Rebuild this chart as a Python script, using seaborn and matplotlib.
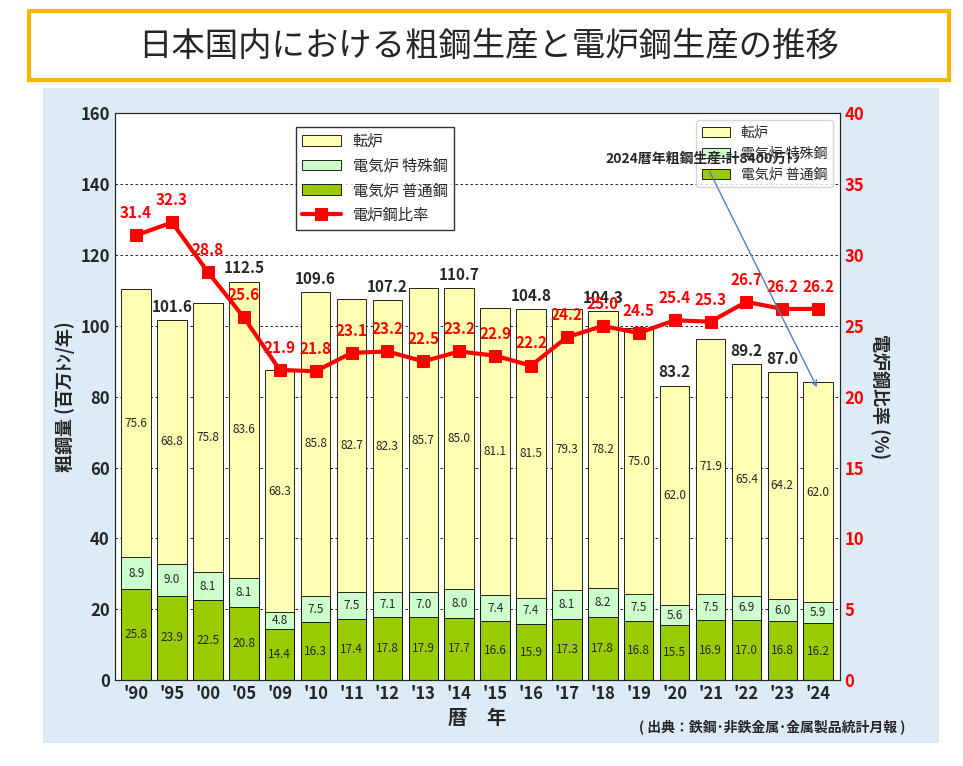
import matplotlib
matplotlib.use("Agg")
import matplotlib.pyplot as plt
import seaborn as sns
import pandas as pd
import numpy as np
from matplotlib.patches import Rectangle

sns.set_style("white")
plt.rcParams['font.family'] = ['Noto Sans CJK JP', 'DejaVu Sans']

years = ["'90","'95","'00","'05","'09","'10","'11","'12","'13","'14","'15","'16","'17","'18","'19","'20","'21","'22","'23","'24"]
eaf_normal = [25.8,23.9,22.5,20.8,14.4,16.3,17.4,17.8,17.9,17.7,16.6,15.9,17.3,17.8,16.8,15.5,16.9,17.0,16.8,16.2]
eaf_special = [8.9,9.0,8.1,8.1,4.8,7.5,7.5,7.1,7.0,8.0,7.4,7.4,8.1,8.2,7.5,5.6,7.5,6.9,6.0,5.9]
bof = [75.6,68.8,75.8,83.6,68.3,85.8,82.7,82.3,85.7,85.0,81.1,81.5,79.3,78.2,75.0,62.0,71.9,65.4,64.2,62.0]
eaf_ratio = [31.4,32.3,28.8,25.6,21.9,21.8,23.1,23.2,22.5,23.2,22.9,22.2,24.2,25.0,24.5,25.4,25.3,26.7,26.2,26.2]
total_labels = {"'95":"101.6","'05":"112.5","'10":"109.6","'12":"107.2","'14":"110.7","'16":"104.8","'18":"104.3","'20":"83.2","'22":"89.2","'23":"87.0"}

df = pd.DataFrame({"year": years, "normal": eaf_normal, "special": eaf_special, "bof": bof, "ratio": eaf_ratio})
df["mid"] = df["normal"] + df["special"]
df["total"] = df["mid"] + df["bof"]

fig = plt.figure(figsize=(9.63, 7.66), dpi=100)
fig.patch.set_facecolor("white")
bg = Rectangle((0.045, 0.03), 0.93, 0.855, transform=fig.transFigure,
               facecolor="#dcebf5", edgecolor="none", zorder=-10)
fig.patches.append(bg)
tb = Rectangle((0.03, 0.895), 0.955, 0.09, transform=fig.transFigure,
               facecolor="white", edgecolor="#f5b800", linewidth=3, zorder=-5)
fig.patches.append(tb)
fig.text(0.507, 0.94, "日本国内における粗鋼生産と電炉鋼生産の推移", ha="center", va="center", fontsize=24)

ax = fig.add_axes([0.119, 0.112, 0.753, 0.74])
ax.set_facecolor("white")
kw = dict(width=0.82, edgecolor="black", linewidth=0.6, ax=ax, order=years, saturation=1)
sns.barplot(data=df, x="year", y="total", color="#ffffb3", label="転炉", **kw)
sns.barplot(data=df, x="year", y="mid", color="#ccffcc", label="電気炉 特殊鋼", **kw)
sns.barplot(data=df, x="year", y="normal", color="#99cc00", label="電気炉 普通鋼", **kw)

for i, r in df.iterrows():
    ax.text(i, r["normal"] / 2, f"{r['normal']:.1f}", ha="center", va="center", fontsize=8.5)
    ax.text(i, r["normal"] + r["special"] / 2, f"{r['special']:.1f}", ha="center", va="center", fontsize=8.5)
    ax.text(i, r["mid"] + r["bof"] / 2, f"{r['bof']:.1f}", ha="center", va="center", fontsize=8.5)
    if r["year"] in total_labels:
        ax.text(i, r["total"] + 1.5, total_labels[r["year"]], ha="center", va="bottom", fontsize=11, fontweight="bold")

ax.set_ylim(0, 160)
ax.set_xlim(-0.6, 19.6)
ax.set_yticks(range(0, 161, 20))
ax.yaxis.grid(True, linestyle=(0, (3, 3)), color="black", linewidth=0.6)
ax.set_axisbelow(True)
ax.set_xlabel("暦　年", fontsize=14, fontweight="bold")
ax.set_ylabel("粗鋼量 (百万ﾄﾝ/年)", fontsize=13, fontweight="bold")
ax.tick_params(axis="both", labelsize=12, length=0)
for t in ax.get_xticklabels() + ax.get_yticklabels():
    t.set_fontweight("bold")

ax2 = ax.twinx()
xpos = np.arange(len(years))
sns.lineplot(x=xpos, y=df["ratio"], ax=ax2, color="red", linewidth=3, marker="s",
             markersize=8, markeredgecolor="red", label="電炉鋼比率")
for i, v in enumerate(eaf_ratio):
    ax2.text(i, v + 1.0, f"{v:.1f}", ha="center", va="bottom", color="red", fontsize=11, fontweight="bold")
ax2.set_ylim(0, 40)
ax2.set_yticks(range(0, 41, 5))
ax2.set_ylabel("電炉鋼比率 (%)", fontsize=13, fontweight="bold", rotation=270, labelpad=18)
ax2.tick_params(axis="y", labelsize=12, colors="red", length=0)
for t in ax2.get_yticklabels():
    t.set_fontweight("bold")
ax2.get_legend().remove()

h1, l1 = ax.get_legend_handles_labels()
h2, l2 = ax2.get_legend_handles_labels()
ax2.legend(h1 + h2, l1 + l2, loc="upper left", bbox_to_anchor=(0.24, 0.99), frameon=True, fontsize=11,
           handlelength=2.5, facecolor="white", edgecolor="black", fancybox=False)

ax2.annotate("2024暦年粗鋼生産:計8400万ﾄﾝ", xy=(19, 20.5), xytext=(15.8, 36.5),
             fontsize=10, fontweight="bold", ha="center",
             arrowprops=dict(arrowstyle="->", color="#4f81bd", linewidth=1))
fig.text(0.94, 0.045, "( 出典：鉄鋼･非鉄金属･金属製品統計月報 )", ha="right", fontsize=10, fontweight="bold")

fig.savefig("out.png", dpi=100)
